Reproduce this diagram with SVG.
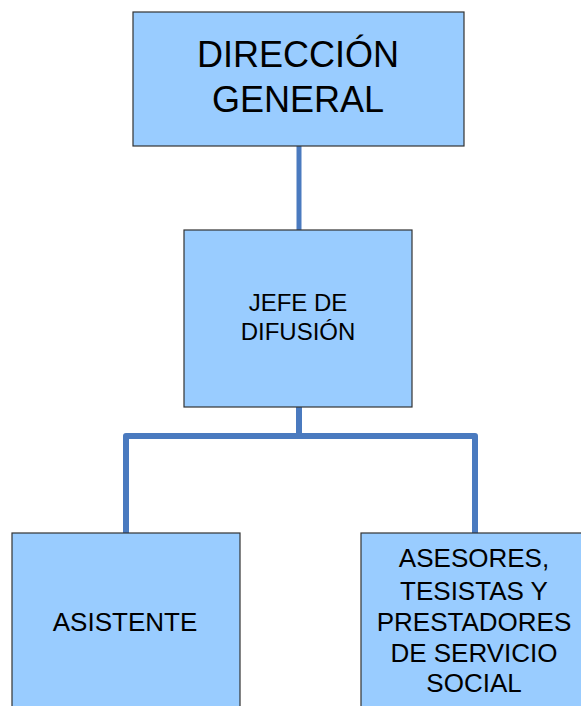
<svg xmlns="http://www.w3.org/2000/svg" width="581" height="706" viewBox="0 0 581 706">
<style>
.box{fill:#99ccff;stroke:#333;stroke-width:1.2}
.t{font-family:"Liberation Sans",Arial,sans-serif;fill:#000;text-anchor:middle}
.c{fill:none;stroke:#4a7abf;stroke-linecap:round;stroke-linejoin:round}
</style>
<rect width="581" height="706" fill="#fff"/>
<g id="connectors">
<path class="c" stroke-width="5" d="M299 146V230"/>
<path class="c" stroke-width="6" d="M299 407V436M126 533V436H475V533"/>
</g>
<g id="direccion">
<rect class="box" x="133" y="12" width="331" height="134"/>
<text class="t" font-size="36" x="298" y="67">DIRECCIÓN</text>
<text class="t" font-size="36" x="298" y="112">GENERAL</text>
</g>
<g id="jefe">
<rect class="box" x="184" y="230" width="228" height="177"/>
<text class="t" font-size="24" x="298" y="311">JEFE DE</text>
<text class="t" font-size="24" x="298" y="340">DIFUSIÓN</text>
</g>
<g id="asistente">
<rect class="box" x="12" y="533" width="228" height="200"/>
<text class="t" font-size="26" x="125" y="631">ASISTENTE</text>
</g>
<g id="asesores">
<rect class="box" x="361" y="533" width="240" height="200"/>
<text class="t" font-size="26" x="474" y="567">ASESORES,</text>
<text class="t" font-size="26" x="474" y="600">TESISTAS Y</text>
<text class="t" font-size="26" x="474" y="631">PRESTADORES</text>
<text class="t" font-size="26" x="474" y="662">DE SERVICIO</text>
<text class="t" font-size="26" x="474" y="692">SOCIAL</text>
</g>
</svg>
